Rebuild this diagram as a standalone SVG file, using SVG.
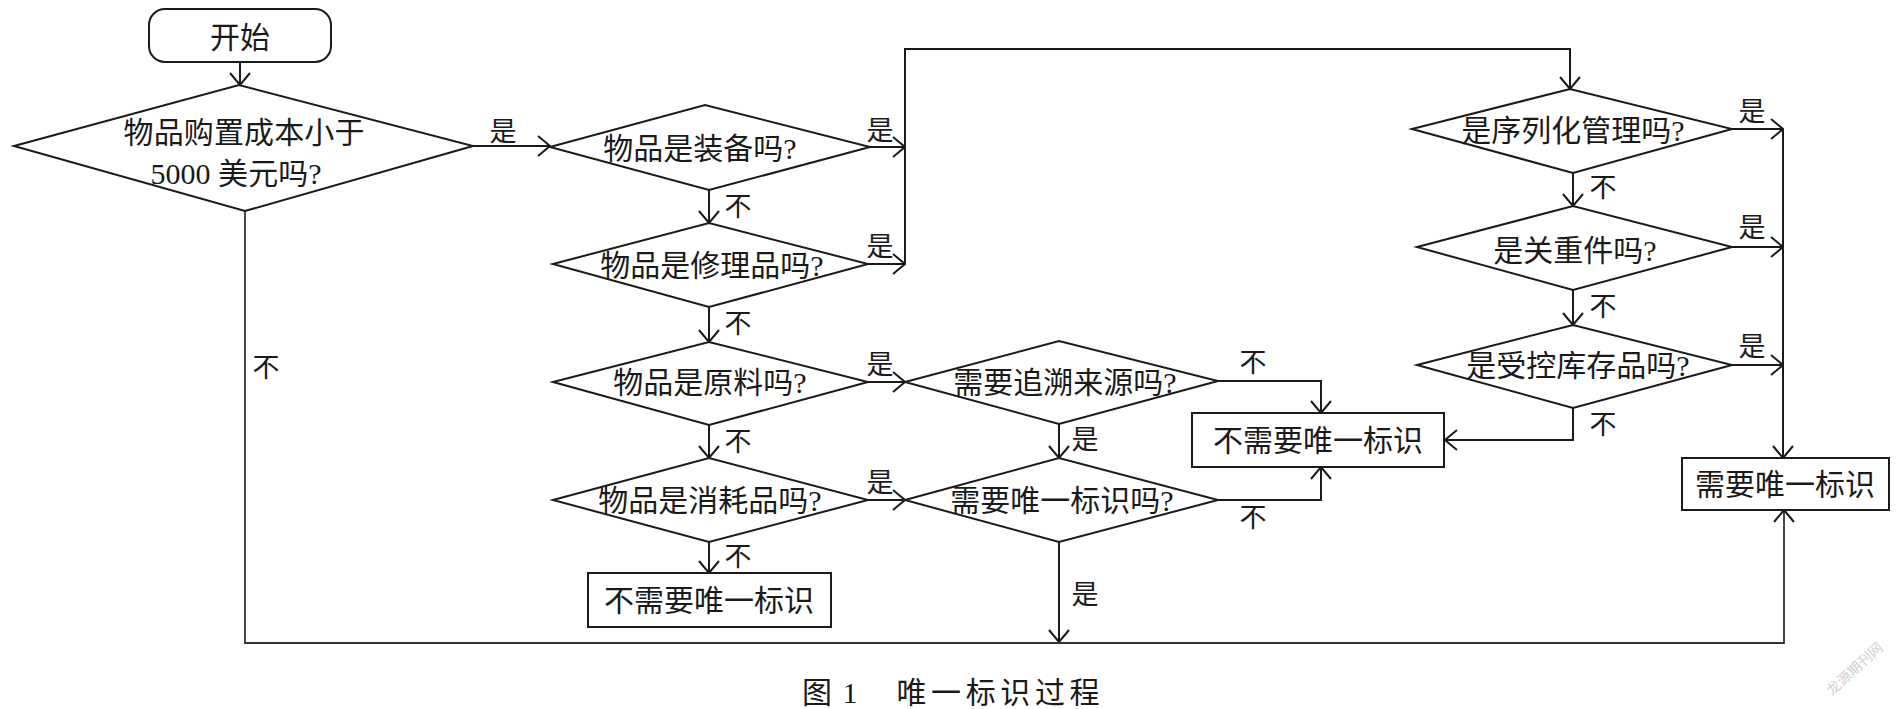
<svg xmlns="http://www.w3.org/2000/svg" width="1896" height="709" viewBox="0 0 1896 709">
<style>
.shape{fill:#fff;stroke:#1a1a1a;stroke-width:2}
.t{font-family:"Liberation Serif","Noto Sans CJK SC",serif;font-size:30px;fill:#1a1a1a;text-anchor:middle;dominant-baseline:central}
.lb{font-family:"Liberation Serif","Noto Sans CJK SC",serif;font-size:27px;fill:#1a1a1a;text-anchor:middle;dominant-baseline:central}
.c{fill:none;stroke:#1a1a1a;stroke-width:2}
.thin{stroke:#333;stroke-width:1.8}
</style>
<defs>
<marker id="ah" viewBox="0 0 14 22" refX="13" refY="11" markerWidth="14" markerHeight="22" markerUnits="userSpaceOnUse" orient="auto">
<path d="M1,1 L13,11 L1,21" fill="none" stroke="#1a1a1a" stroke-width="2"/>
</marker>
</defs>
<rect width="1896" height="709" fill="#fff"/>

<g id="connectors">
<path class="c" d="M240,62 V85" marker-end="url(#ah)"/>
<path class="c" d="M473,146 H550" marker-end="url(#ah)"/>
<path class="c" d="M870,147 H905" marker-end="url(#ah)"/>
<path class="c" d="M868,264 H905" marker-end="url(#ah)"/>
<path class="c" d="M905,264 V49 H1570 V89" marker-end="url(#ah)"/>
<path class="c" d="M709,190 V223" marker-end="url(#ah)"/>
<path class="c" d="M709,307 V342" marker-end="url(#ah)"/>
<path class="c" d="M868,382 H905" marker-end="url(#ah)"/>
<path class="c" d="M709,425 V458" marker-end="url(#ah)"/>
<path class="c" d="M868,500 H905" marker-end="url(#ah)"/>
<path class="c" d="M709,542 V573" marker-end="url(#ah)"/>
<path class="c" d="M1218,381 H1321 V413" marker-end="url(#ah)"/>
<path class="c" d="M1059,424 V458" marker-end="url(#ah)"/>
<path class="c" d="M1218,500 H1321 V467" marker-end="url(#ah)"/>
<path class="c" d="M1059,542 V642" marker-end="url(#ah)"/>
<path class="c thin" d="M245,211 V643 H1784 V510" marker-end="url(#ah)"/>
<path class="c" d="M1732,129 H1783" marker-end="url(#ah)"/>
<path class="c" d="M1783,129 V458" marker-end="url(#ah)"/>
<path class="c" d="M1732,247 H1783" marker-end="url(#ah)"/>
<path class="c" d="M1732,365 H1783" marker-end="url(#ah)"/>
<path class="c" d="M1573,173 V206" marker-end="url(#ah)"/>
<path class="c" d="M1573,290 V325" marker-end="url(#ah)"/>
<path class="c" d="M1573,408 V440 H1445" marker-end="url(#ah)"/>
<text class="lb" x="503" y="132">是</text>
<text class="lb" x="880" y="131">是</text>
<text class="lb" x="880" y="247">是</text>
<text class="lb" x="738" y="207">不</text>
<text class="lb" x="738" y="324">不</text>
<text class="lb" x="880" y="365">是</text>
<text class="lb" x="738" y="442">不</text>
<text class="lb" x="880" y="483">是</text>
<text class="lb" x="738" y="557">不</text>
<text class="lb" x="1253" y="363">不</text>
<text class="lb" x="1085" y="440">是</text>
<text class="lb" x="1253" y="518">不</text>
<text class="lb" x="1085" y="595">是</text>
<text class="lb" x="266" y="368">不</text>
<text class="lb" x="1752" y="112">是</text>
<text class="lb" x="1752" y="228">是</text>
<text class="lb" x="1752" y="347">是</text>
<text class="lb" x="1603" y="188">不</text>
<text class="lb" x="1603" y="307">不</text>
<text class="lb" x="1603" y="425">不</text>
</g>

<g id="start">
<rect class="shape" x="149" y="9" width="182" height="53" rx="16"/>
<text class="t" x="240" y="37">开始</text>
</g>
<g id="d1">
<polygon class="shape" points="14,146 239,85 473,146 245,211"/>
<text class="t" x="244" y="132" textLength="241" lengthAdjust="spacing">物品购置成本小于</text>
<text class="t" x="236" y="173" textLength="171" lengthAdjust="spacing">5000 美元吗?</text>
</g>
<g id="d2">
<polygon class="shape" points="550,147 705,105 870,147 709,190"/>
<text class="t" x="700" y="148">物品是装备吗?</text>
</g>
<g id="d3">
<polygon class="shape" points="553,264 709,223 868,264 709,307"/>
<text class="t" x="712" y="265">物品是修理品吗?</text>
</g>
<g id="d4">
<polygon class="shape" points="553,382 709,342 868,382 709,425"/>
<text class="t" x="710" y="382">物品是原料吗?</text>
</g>
<g id="d5">
<polygon class="shape" points="553,500 709,458 868,500 709,542"/>
<text class="t" x="710" y="500">物品是消耗品吗?</text>
</g>
<g id="box1">
<rect class="shape" x="588" y="573" width="243" height="54"/>
<text class="t" x="709" y="600">不需要唯一标识</text>
</g>
<g id="d6">
<polygon class="shape" points="905,382 1059,341 1218,381 1059,424"/>
<text class="t" x="1065" y="382">需要追溯来源吗?</text>
</g>
<g id="d7">
<polygon class="shape" points="905,500 1059,458 1218,500 1059,542"/>
<text class="t" x="1062" y="500">需要唯一标识吗?</text>
</g>
<g id="box2">
<rect class="shape" x="1192" y="413" width="252" height="54"/>
<text class="t" x="1318" y="440">不需要唯一标识</text>
</g>
<g id="d8">
<polygon class="shape" points="1412,129 1570,89 1732,129 1573,173"/>
<text class="t" x="1573" y="130">是序列化管理吗?</text>
</g>
<g id="d9">
<polygon class="shape" points="1417,247 1573,206 1732,247 1573,290"/>
<text class="t" x="1575" y="250">是关重件吗?</text>
</g>
<g id="d10">
<polygon class="shape" points="1417,365 1573,325 1732,365 1573,408"/>
<text class="t" x="1578" y="365">是受控库存品吗?</text>
</g>
<g id="box3">
<rect class="shape" x="1682" y="458" width="207" height="52"/>
<text class="t" x="1785" y="484">需要唯一标识</text>
</g>

<g id="caption">
<text class="t" x="817" y="692">图</text>
<text class="t" x="850" y="692">1</text>
<text class="t" x="998" y="692" textLength="203" lengthAdjust="spacing">唯一标识过程</text>
</g>
<text x="1854" y="668" transform="rotate(-42 1854 668)" font-family="'Noto Sans CJK SC',sans-serif" font-size="14" fill="#d0d0d0" text-anchor="middle" dominant-baseline="central">龙源期刊网</text>
</svg>
